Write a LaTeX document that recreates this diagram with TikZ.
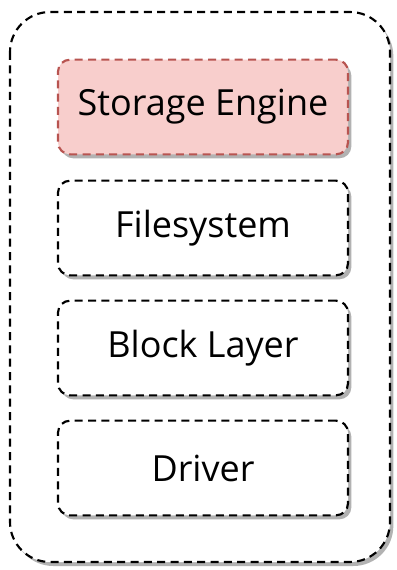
\documentclass[tikz,border=0pt]{standalone}
\usepackage{fontspec}
\setmainfont{Open Sans}
\usetikzlibrary{shadows}
\definecolor{engfill}{HTML}{F8CECC}
\definecolor{engline}{HTML}{B85450}
\tikzset{
  layer/.style={draw=black, line width=1.6pt, dash pattern=on 6pt off 4pt,
    rounded corners=9pt, fill=white, minimum width=217.5pt, minimum height=71pt,
    font=\fontsize{27}{32}\selectfont,
    drop shadow={shadow xshift=2.5pt, shadow yshift=-3pt, fill=black!30, opacity=1}},
  engine/.style={layer, draw=engline, fill=engfill},
  outer/.style={draw=black, line width=1.6pt, dash pattern=on 6pt off 4pt,
    rounded corners=30pt,
    drop shadow={shadow xshift=2.5pt, shadow yshift=-3pt, fill=black!30, opacity=1}}
}
\begin{document}
\begin{tikzpicture}[x=0.75pt, y=-0.75pt]
  \useasboundingbox (0,0) rectangle (396,570);
  \draw[outer, fill=white] (10,12) rectangle (390,562);
  \node[engine] (se) at (203,107) {Storage Engine};
  \node[layer]  (fs) at (203,228) {Filesystem};
  \node[layer]  (bl) at (203,348) {Block Layer};
  \node[layer]  (dr) at (203,468) {Driver};
\end{tikzpicture}
\end{document}
